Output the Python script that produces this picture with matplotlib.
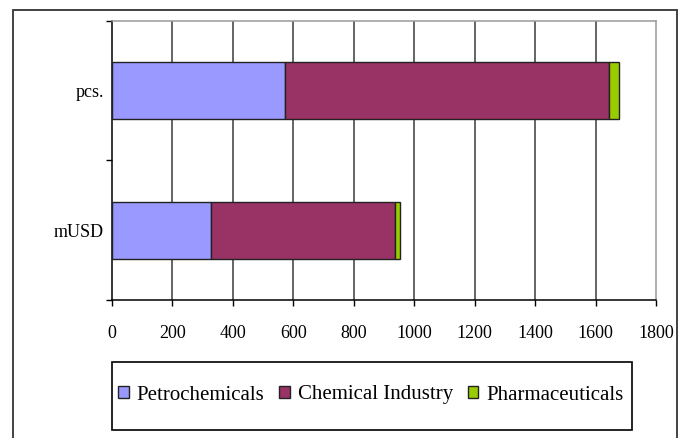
import matplotlib
matplotlib.use("Agg")
import matplotlib.pyplot as plt
from matplotlib.patches import Rectangle

plt.rcParams['font.family'] = ['Liberation Serif', 'DejaVu Serif']

categories = ["mUSD", "pcs."]
series_names = ["Petrochemicals", "Chemical Industry", "Pharmaceuticals"]
petrochemicals = [327, 574]
chemical_industry = [608, 1070]
pharmaceuticals = [18, 35]
xticks = [0, 200, 400, 600, 800, 1000, 1200, 1400, 1600, 1800]
colors = ["#9999FF", "#993366", "#99CC00"]

fig = plt.figure(figsize=(6.86, 4.38), dpi=100)
ax = fig.add_axes([112/686, 1-300/438, 544/686, 279/438])

ypos = list(range(len(categories)))
left = [0]*len(categories)
for name, vals, c in zip(series_names, [petrochemicals, chemical_industry, pharmaceuticals], colors):
    ax.barh(ypos, vals, left=left, height=0.41, color=c, edgecolor="#222222",
            linewidth=1.0, label=name, zorder=3)
    left = [l + v for l, v in zip(left, vals)]

ax.set_xlim(xticks[0], xticks[-1])
ax.set_ylim(-0.5, len(categories)-0.5)
ax.set_xticks(xticks)
ax.set_xticklabels([str(t) for t in xticks], fontsize=13)
ax.tick_params(axis='x', direction='out', length=4, width=1, pad=14, color='black')

ax.set_yticks([-0.5, 0.5, 1.5])
ax.set_yticklabels([])
ax.set_yticks(ypos, minor=True)
ax.set_yticklabels(categories, minor=True, fontsize=13)
ax.tick_params(axis='y', which='major', direction='out', length=4, width=1, color='black')
ax.tick_params(axis='y', which='minor', length=0, pad=6)

for t in xticks[1:-1]:
    ax.axvline(t, color="#3a3a3a", linewidth=1.1, zorder=1)

for s in ['top', 'right']:
    ax.spines[s].set_color('#9a9a9a')
    ax.spines[s].set_linewidth(1.1)
for s in ['left', 'bottom']:
    ax.spines[s].set_color('black')
    ax.spines[s].set_linewidth(1.1)

leg = fig.legend(loc='center', bbox_to_anchor=(371/686, 1-395/438), ncol=3,
                 fontsize=15, frameon=False,
                 handlelength=0.5, handleheight=0.5, handletextpad=0.38,
                 columnspacing=0.72, borderpad=0.2, borderaxespad=0)
for h in leg.legend_handles:
    h.set_edgecolor('#222222')
    h.set_linewidth(1.0)

legframe = Rectangle((112/686, 1-430/438), 520/686, 68/438, transform=fig.transFigure,
                     fill=False, edgecolor='black', linewidth=1.2)
fig.add_artist(legframe)

border = Rectangle((13/686, -0.1), (677-13)/686, 1.1 - 10/438, transform=fig.transFigure,
                   fill=False, edgecolor='#333333', linewidth=1.3, clip_on=False)
fig.add_artist(border)

fig.savefig("out.png", dpi=100)
